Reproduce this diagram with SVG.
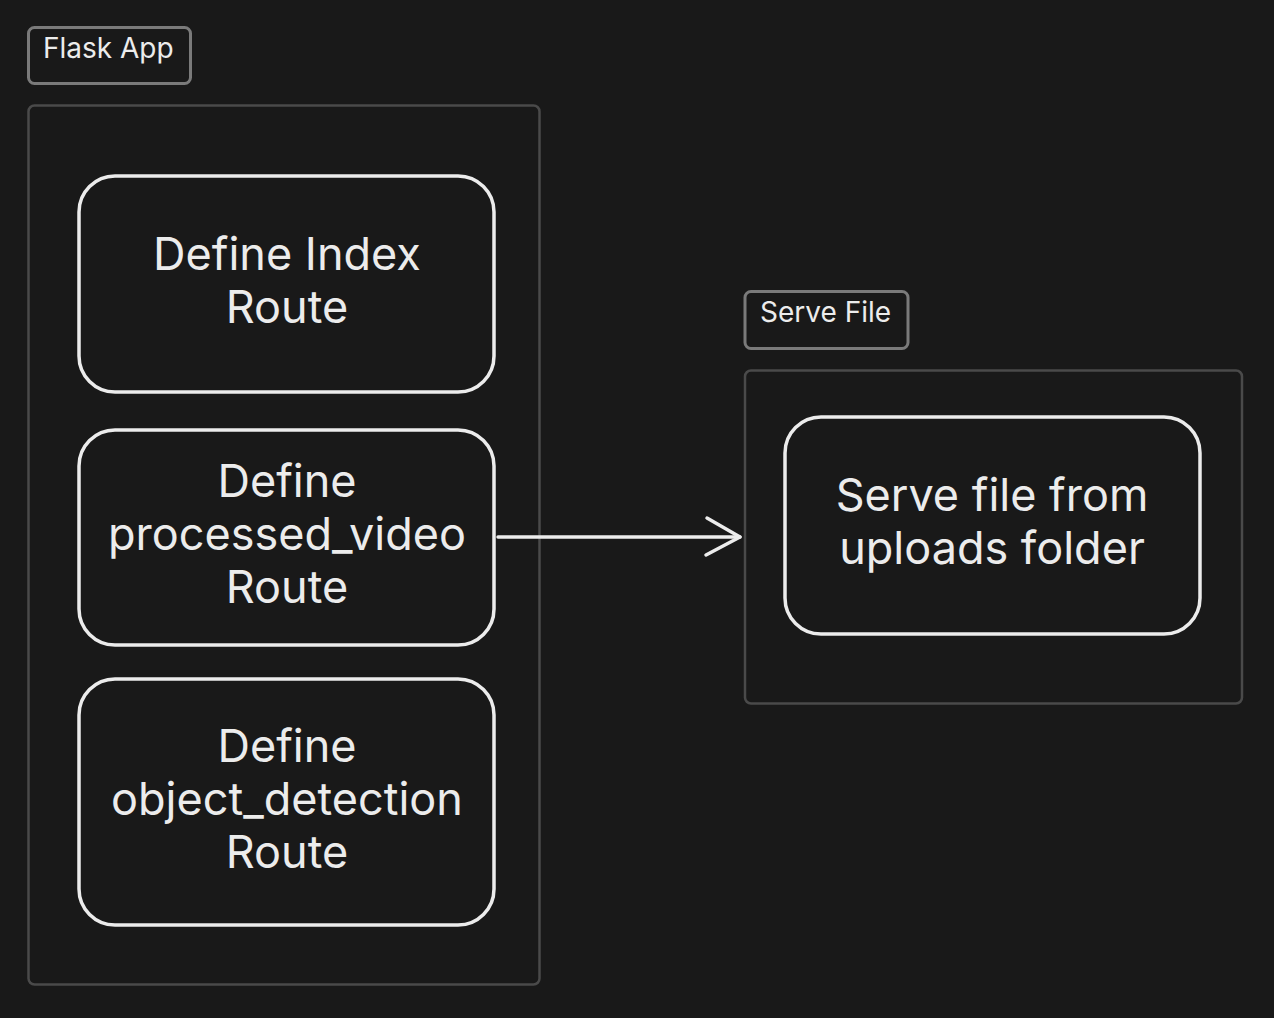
<svg xmlns="http://www.w3.org/2000/svg" width="1274" height="1018" viewBox="0 0 1274 1018">
<style>
.lbl{fill:#191919;stroke:#7a7a7a;stroke-width:3}
.cont{fill:#191919;stroke:#4a4a4a;stroke-width:2.5}
.node{fill:#191919;stroke:#ececec;stroke-width:3.5}
.t{font-family:Inter,"Liberation Sans",sans-serif;fill:#ececec}
.big{font-size:45px;text-anchor:middle}
.small{font-size:28px}
.conn{stroke:#ececec;stroke-width:3.5;fill:none;stroke-linecap:round;stroke-linejoin:round}
</style>
<rect width="1274" height="1018" fill="#191919"/>
<g id="flask-app">
<rect class="lbl" x="28.5" y="27.5" width="162" height="56" rx="6"/>
<text class="t small" x="43" y="58">Flask App</text>
<rect class="cont" x="28.5" y="105.5" width="511" height="879" rx="6"/>
</g>
<g id="serve-file">
<rect class="lbl" x="745" y="291.5" width="163" height="57" rx="6"/>
<text class="t small" x="760" y="322">Serve File</text>
<rect class="cont" x="745" y="370.5" width="497" height="333" rx="6"/>
</g>
<g id="node-index">
<rect class="node" x="79" y="176" width="415" height="216" rx="36"/>
<text class="t big" x="287" y="270">Define Index</text>
<text class="t big" x="287" y="323">Route</text>
</g>
<g id="node-processed">
<rect class="node" x="79" y="430" width="415" height="215" rx="36"/>
<text class="t big" x="287" y="497">Define</text>
<text class="t big" x="287" y="550">processed_video</text>
<text class="t big" x="287" y="603">Route</text>
</g>
<g id="node-object">
<rect class="node" x="79" y="679" width="415" height="246" rx="36"/>
<text class="t big" x="287" y="762">Define</text>
<text class="t big" x="287" y="815">object_detection</text>
<text class="t big" x="287" y="868">Route</text>
</g>
<g id="node-serve">
<rect class="node" x="785" y="417" width="415" height="217" rx="36"/>
<text class="t big" x="992" y="511">Serve file from</text>
<text class="t big" x="992" y="564">uploads folder</text>
</g>
<g id="connectors">
<path class="conn" d="M498 537 L740 537"/>
<path class="conn" d="M707 518 L740 537 L706 555"/>
</g>
</svg>
